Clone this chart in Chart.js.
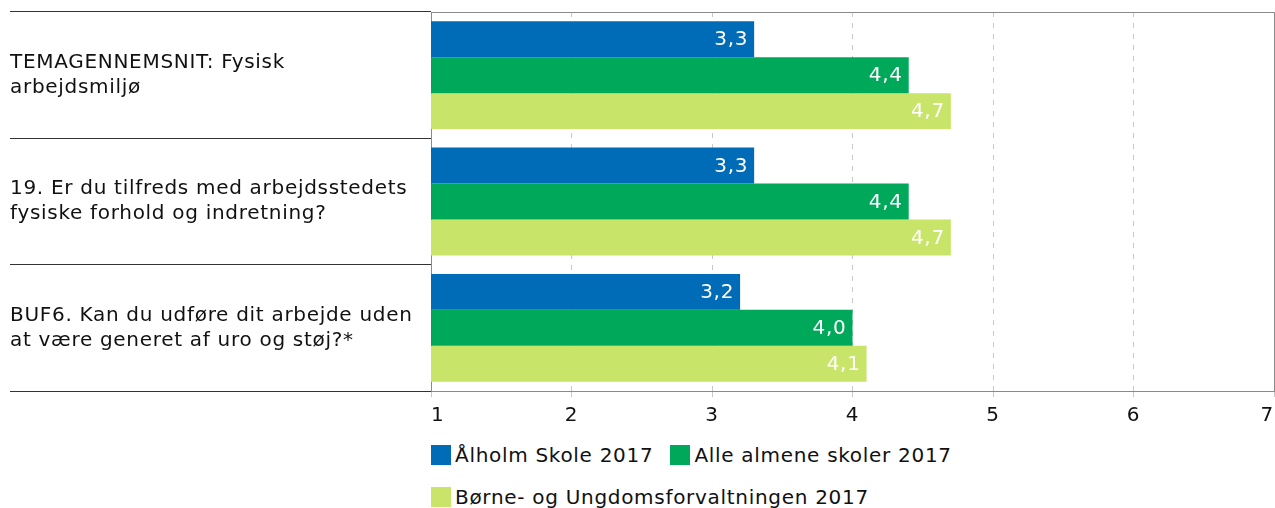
<!DOCTYPE html>
<html>
<head>
<meta charset="utf-8">
<script src="https://cdn.jsdelivr.net/npm/chart.js@4/dist/chart.umd.min.js"></script>
<style>
  html, body { margin: 0; padding: 0; background: #fff; }
  body { width: 1275px; height: 508px; overflow: hidden; position: relative; font-family: "DejaVu Sans", Verdana, sans-serif; }
  #wrap { position: absolute; left: 0; top: 0; width: 1275px; height: 435px; }
  #legend { position: absolute; left: 431px; top: 444px; width: 840px; font-size: 20px; letter-spacing: 0.7px; color: #111; }
  .item { display: inline-flex; align-items: center; margin-right: 17px; height: 22px; }
  .row { height: 42px; white-space: nowrap; }
  .box { width: 20px; height: 20px; margin-right: 4px; display: inline-block; }
</style>
</head>
<body>
<div id="wrap"><canvas id="c" width="1275" height="435"></canvas></div>
<div id="legend"></div>
<script>
const categories = [
  ["TEMAGENNEMSNIT: Fysisk", "arbejdsmiljø"],
  ["19. Er du tilfreds med arbejdsstedets", "fysiske forhold og indretning?"],
  ["BUF6. Kan du udføre dit arbejde uden", "at være generet af uro og støj?*"]
];
const seriesNames = ["Ålholm Skole 2017", "Alle almene skoler 2017", "Børne- og Ungdomsforvaltningen 2017"];
const alholm = [3.3, 3.3, 3.2];
const almene = [4.4, 4.4, 4.0];
const buf = [4.7, 4.7, 4.1];
const colors = ["#006bb6", "#00a85a", "#c8e56a"];
const xTicks = [1, 2, 3, 4, 5, 6, 7];

const FONT = '"DejaVu Sans", Verdana, sans-serif';
const FS = 20;
const LS = '0.7px';

const spacing = {
  id: 'spacing',
  beforeUpdate(chart) { chart.ctx.letterSpacing = LS; },
  beforeDraw(chart) { chart.ctx.letterSpacing = LS; }
};

const valueLabels = {
  id: 'valueLabels',
  afterDatasetsDraw(chart) {
    const ctx = chart.ctx;
    ctx.save();
    ctx.font = FS + 'px ' + FONT;
    ctx.fillStyle = '#ffffff';
    ctx.textAlign = 'right';
    ctx.textBaseline = 'middle';
    chart.data.datasets.forEach((ds, i) => {
      chart.getDatasetMeta(i).data.forEach((bar, j) => {
        const txt = ds.data[j].toFixed(1).replace('.', ',');
        ctx.fillText(txt, bar.x - 6, bar.y + 1);
      });
    });
    ctx.restore();
  }
};

const frame = {
  id: 'frame',
  afterDraw(chart) {
    const a = chart.chartArea;
    const ctx = chart.ctx;
    ctx.save();
    ctx.strokeStyle = '#8a8a8a';
    ctx.lineWidth = 1;
    ctx.beginPath();
    ctx.moveTo(a.left, a.top + 0.5);
    ctx.lineTo(a.right + 0.5, a.top + 0.5);
    ctx.lineTo(a.right + 0.5, a.bottom);
    ctx.stroke();
    ctx.restore();
  }
};

new Chart(document.getElementById('c'), {
  type: 'bar',
  data: {
    labels: categories,
    datasets: [
      { label: seriesNames[0], data: alholm, backgroundColor: colors[0] },
      { label: seriesNames[1], data: almene, backgroundColor: colors[1] },
      { label: seriesNames[2], data: buf, backgroundColor: colors[2] }
    ]
  },
  options: {
    indexAxis: 'y',
    responsive: false,
    animation: false,
    layout: { padding: { left: 10, right: 1, top: 12, bottom: 0 } },
    datasets: { bar: { categoryPercentage: 0.853, barPercentage: 1.0 } },
    plugins: { legend: { display: false }, tooltip: { enabled: false } },
    scales: {
      x: {
        min: 1, max: 7,
        afterBuildTicks(s) { s.ticks = xTicks.map(v => ({ value: v })); },
        afterFit(s) { s.paddingLeft = 0; s.paddingRight = 0; },
        grid: { color: '#c8c8c8', tickLength: 6, tickColor: '#c8c8c8' },
        border: { color: '#8a8a8a', dash: [5, 6] },
        ticks: { font: { family: FONT, size: FS }, color: '#111', padding: 7, maxRotation: 0, autoSkip: false, align: 'inner' }
      },
      y: {
        afterFit(s) { s.width = 421; s.paddingTop = 0; s.paddingBottom = 0; },
        grid: { offset: true, drawOnChartArea: false, tickLength: 421, color: '#333', tickColor: '#333' },
        border: { color: '#8a8a8a' },
        ticks: { font: { family: FONT, size: FS, lineHeight: 1.25 }, color: '#111', crossAlign: 'far', padding: 0 }
      }
    }
  },
  plugins: [spacing, valueLabels, frame]
});

// HTML legend
const leg = document.getElementById('legend');
const rows = [[0, 1], [2]];
rows.forEach(r => {
  const row = document.createElement('div');
  row.className = 'row';
  r.forEach(i => {
    const it = document.createElement('span');
    it.className = 'item';
    const b = document.createElement('span');
    b.className = 'box';
    b.style.background = colors[i];
    const t = document.createElement('span');
    t.textContent = seriesNames[i];
    it.appendChild(b); it.appendChild(t);
    row.appendChild(it);
  });
  leg.appendChild(row);
});
</script>
</body>
</html>
